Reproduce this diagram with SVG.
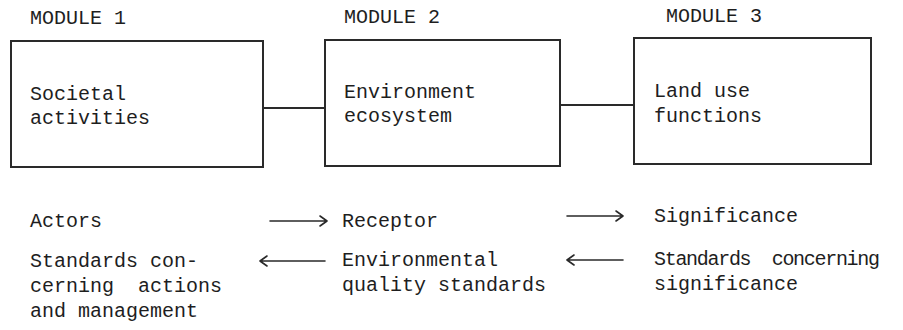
<svg xmlns="http://www.w3.org/2000/svg" width="903" height="330" viewBox="0 0 903 330">
<style>
.bg{fill:#ffffff}
.box{fill:none;stroke:#2a2a2a;stroke-width:2}
.ln{fill:none;stroke:#2a2a2a;stroke-width:2}
.ar{fill:none;stroke:#2a2a2a;stroke-width:1.6;stroke-linecap:round;stroke-linejoin:round}
text{font-family:"Liberation Mono","Courier New",monospace;font-size:20px;fill:#1e1e1e}
</style>
<rect class="bg" x="0" y="0" width="903" height="330"/>
<g id="module1">
<text x="30" y="24">MODULE 1</text>
<rect class="box" x="11" y="41" width="252" height="126"/>
<text x="30" y="100">Societal</text>
<text x="30" y="124">activities</text>
</g>
<g id="module2">
<text x="344" y="23">MODULE 2</text>
<rect class="box" x="325" y="40" width="235" height="126"/>
<text x="344" y="98">Environment</text>
<text x="344" y="122">ecosystem</text>
</g>
<g id="module3">
<text x="666" y="22">MODULE 3</text>
<rect class="box" x="634" y="38" width="237" height="126"/>
<text x="654" y="97">Land use</text>
<text x="654" y="122">functions</text>
</g>
<g id="connectors">
<line class="ln" x1="263" y1="108" x2="325" y2="108"/>
<line class="ln" x1="560" y1="105" x2="634" y2="105"/>
<path class="ar" d="M270 221 H327 M320 216 L327 221 L320 226"/>
<path class="ar" d="M567 216 H623 M616 211 L623 216 L616 221"/>
<path class="ar" d="M325 261 H260 M267 256 L260 261 L267 266"/>
<path class="ar" d="M623 260 H567 M574 255 L567 260 L574 265"/>
</g>
<g id="actors">
<text x="30" y="227">Actors</text>
</g>
<g id="receptor">
<text x="342" y="227">Receptor</text>
</g>
<g id="significance">
<text x="654" y="222">Significance</text>
</g>
<g id="standards-actions">
<text x="30" y="267" xml:space="preserve">Standards con-</text>
<text x="30" y="292" xml:space="preserve">cerning  actions</text>
<text x="30" y="317" xml:space="preserve">and management</text>
</g>
<g id="env-quality-standards">
<text x="342" y="266">Environmental</text>
<text x="342" y="291">quality standards</text>
</g>
<g id="standards-significance">
<text x="654" y="265" xml:space="preserve" textLength="226" lengthAdjust="spacing">Standards  concerning</text>
<text x="654" y="290">significance</text>
</g>
</svg>
